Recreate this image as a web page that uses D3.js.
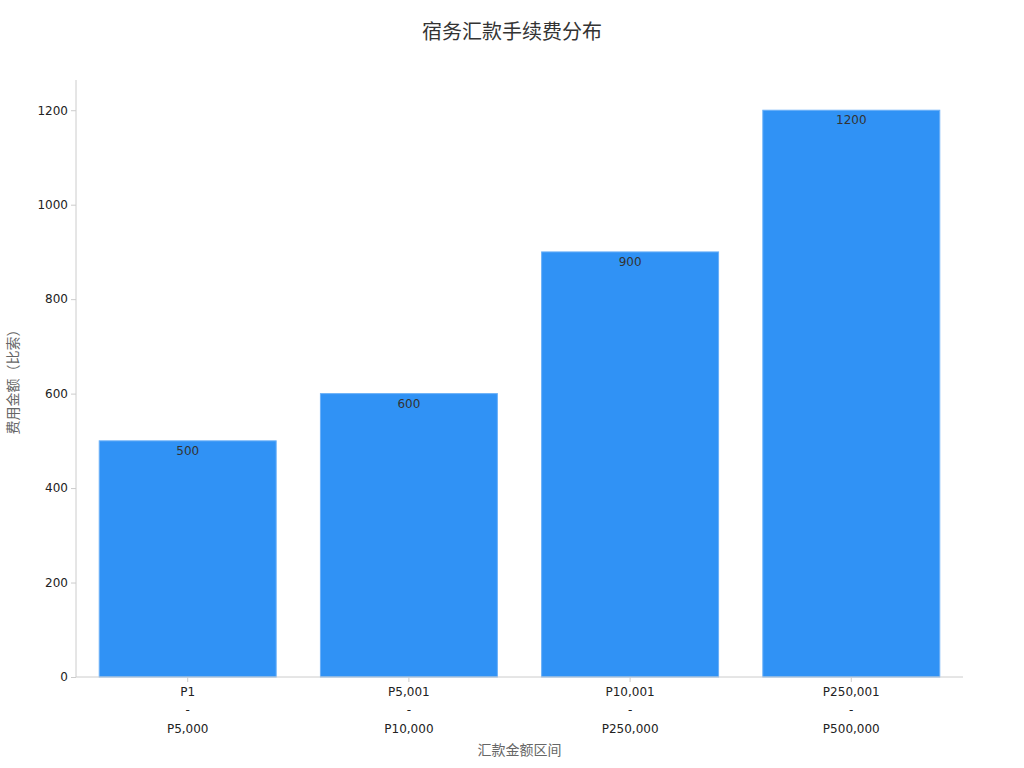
<!DOCTYPE html>
<html>
<head>
<meta charset="utf-8">
<script src="https://cdn.jsdelivr.net/npm/d3@7"></script>
<style>
  body { margin: 0; background: #fff; font-family: "DejaVu Sans", "Noto Sans CJK SC", sans-serif; }
  .axis path, .axis line { stroke: #ccc; }
  .axis text { fill: #222; font-size: 12px; }
</style>
</head>
<body>
<div id="chart-area"></div>
<script>
// Data
var ranges = ["P1\n-\nP5,000", "P5,001\n-\nP10,000", "P10,001\n-\nP250,000", "P250,001\n-\nP500,000"];
var fees = [500, 600, 900, 1200];
var yTicks = [0, 200, 400, 600, 800, 1000, 1200];

var margin = { left: 76, right: 61, top: 80, bottom: 91 };
var width = 1024 - margin.left - margin.right,
    height = 768 - margin.top - margin.bottom;

var svg = d3.select("#chart-area")
    .append("svg")
        .attr("width", 1024)
        .attr("height", 768);

var g = svg.append("g")
    .attr("transform", "translate(" + margin.left + "," + margin.top + ")");

// Scales
var x = d3.scaleBand()
    .domain(ranges)
    .range([0, width])
    .paddingInner(0.2)
    .paddingOuter(0.105);

var y = d3.scaleLinear()
    .domain([0, 1264])
    .range([height, 0]);

// Bars
g.selectAll("rect.bar")
    .data(fees)
    .enter()
    .append("rect")
        .attr("class", "bar")
        .attr("x", function(d, i){ return x(ranges[i]); })
        .attr("y", function(d){ return y(d); })
        .attr("width", x.bandwidth())
        .attr("height", function(d){ return height - y(d); })
        .attr("fill", "#3092f5")
        .attr("stroke", "#6ab0f8")
        .attr("stroke-width", 1);

// Value labels
g.selectAll("text.val")
    .data(fees)
    .enter()
    .append("text")
        .attr("class", "val")
        .attr("x", function(d, i){ return x(ranges[i]) + x.bandwidth() / 2; })
        .attr("y", function(d){ return y(d) + 14; })
        .attr("text-anchor", "middle")
        .attr("font-size", "12px")
        .attr("fill", "#333")
        .text(function(d){ return d; });

// Y Axis
var yAxis = g.append("g")
    .attr("class", "axis")
    .call(d3.axisLeft(y).tickValues(yTicks).tickFormat(d3.format("d")).tickSize(5).tickSizeOuter(0))
    .attr("font-family", null);
yAxis.select(".domain").attr("d", "M0," + height + "V0");

// X Axis
var xAxis = g.append("g")
    .attr("class", "axis")
    .attr("transform", "translate(0," + height + ")")
    .call(d3.axisBottom(x).tickSize(5).tickSizeOuter(0))
    .attr("font-family", null);
xAxis.select(".domain").attr("d", "M0,0H" + width);

xAxis.selectAll(".tick text").each(function(d){
    var t = d3.select(this);
    var lines = d.split("\n");
    t.text(null);
    lines.forEach(function(line, i){
        t.append("tspan")
            .attr("x", 0)
            .attr("dy", i === 0 ? "0.71em" : "1.55em")
            .text(line);
    });
});
xAxis.selectAll(".tick text").attr("y", 10);

// Title
svg.append("text")
    .attr("x", 512)
    .attr("y", 39)
    .attr("text-anchor", "middle")
    .attr("font-size", "20px")
    .attr("fill", "#333")
    .text("宿务汇款手续费分布");

// Y label
svg.append("text")
    .attr("transform", "translate(18," + (margin.top + height / 2) + ") rotate(-90)")
    .attr("text-anchor", "middle")
    .attr("font-size", "14px")
    .attr("fill", "#666")
    .text("费用金额（比索）");

// X label
svg.append("text")
    .attr("x", margin.left + width / 2)
    .attr("y", 755)
    .attr("text-anchor", "middle")
    .attr("font-size", "14px")
    .attr("fill", "#666")
    .text("汇款金额区间");
</script>
</body>
</html>
